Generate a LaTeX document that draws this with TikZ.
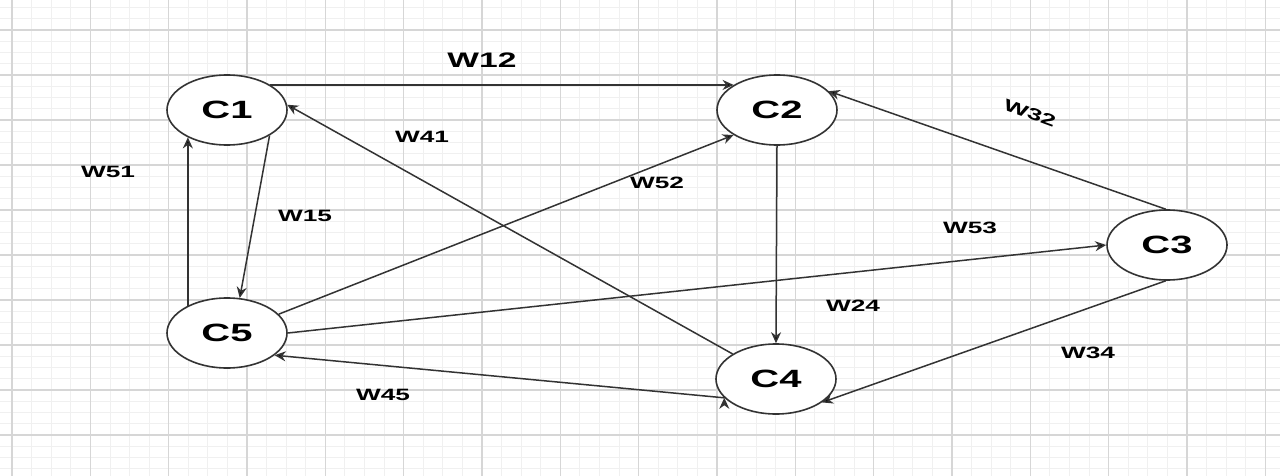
\documentclass[tikz,border=0pt]{standalone}
\usepackage{fontspec}
\setmainfont{Liberation Sans}
\usetikzlibrary{shapes.geometric,arrows.meta}

\newcommand{\wide}[1]{\scalebox{1.6}[1]{#1}}

\tikzstyle{cluster} = [draw=black!80, line width=0.8pt, ellipse, fill=white, minimum width=60pt, minimum height=35pt, inner sep=0, font=\fontsize{12.5}{14}\selectfont\bfseries]
\tikzstyle{weight} = [inner sep=0, font=\fontsize{8.2}{10}\selectfont\bfseries]
\tikzstyle{link} = [draw=black!80, line width=0.75pt, -{Stealth[length=5.5pt,width=5pt]}]
\tikzstyle{gridmajor} = [draw=black!16, line width=0.6pt]
\tikzstyle{gridminor} = [draw=black!6, line width=0.4pt]

\begin{document}
\begin{tikzpicture}[x=0.5pt, y=-0.5pt]
  \useasboundingbox (0,0) rectangle (1280,476);
  \fill[white] (0,0) rectangle (1280,476);

  % grid paper
  \foreach \gx in {-7.58,12,...,1280} \draw[gridminor] (\gx,0) -- (\gx,476);
  \foreach \gy in {7.5,18.75,...,476} \draw[gridminor] (0,\gy) -- (1280,\gy);
  \foreach \gx in {12,90.33,...,1280} \draw[gridmajor] (\gx,0) -- (\gx,476);
  \foreach \gy in {30,75,...,476} \draw[gridmajor] (0,\gy) -- (1280,\gy);

  \node at (227, 110) [cluster] (C1) {\wide{C1}};
  \node at (777, 110) [cluster] (C2) {\wide{C2}};
  \node at (1167, 245) [cluster] (C3) {\wide{C3}};
  \node at (776, 379) [cluster] (C4) {\wide{C4}};
  \node at (227, 333) [cluster] (C5) {\wide{C5}};

  \node at (482, 60) [weight, font=\fontsize{10.5}{12}\selectfont\bfseries] (w12) {\wide{W12}};
  \node at (422, 137) [weight] (w41) {\wide{W41}};
  \node at (1030, 113) [weight, rotate=-20] (w32) {\wide{W32}};
  \node at (108, 172) [weight] (w51) {\wide{W51}};
  \node at (305, 216) [weight] (w15) {\wide{W15}};
  \node at (657, 183) [weight] (w52) {\wide{W52}};
  \node at (970, 228) [weight] (w53) {\wide{W53}};
  \node at (853, 306) [weight] (w24) {\wide{W24}};
  \node at (1088, 353) [weight] (w34) {\wide{W34}};
  \node at (383, 395) [weight] (w45) {\wide{W45}};

  \path[link]
     (C1.30)   edge (C2.150)
     (C2.270)  edge (C4.90)
     (C1.-31)  edge (C5.70)
     (C5.145)  edge (C1.-145)
     (C4.150)  edge (C1.5)
     (C5.20)   edge (C2.-150)
     (C5.0)    edge (C3.180)
     (C3.92)   edge (C2.20)
     (C3.-92)  edge (C4.-27)
     (C4.-160) edge (C5.-25);
\end{tikzpicture}
\end{document}
